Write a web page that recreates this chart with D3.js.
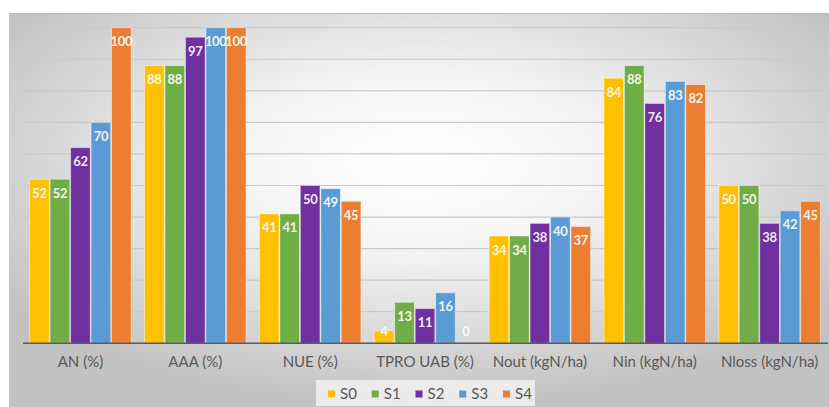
<!DOCTYPE html>
<html>
<head>
<meta charset="utf-8">
<script src="https://cdn.jsdelivr.net/npm/d3@7"></script>
<style>
  html, body { margin: 0; padding: 0; background: #ffffff; }
  svg { display: block; font-family: "Lato", "Open Sans", sans-serif; }
</style>
</head>
<body>
<svg id="chart" width="829" height="407"></svg>
<script>
// Indicator groups along the x axis
const categories = ["AN (%)", "AAA (%)", "NUE (%)", "TPRO UAB (%)", "Nout (kgN/ha)", "Nin (kgN/ha)", "Nloss (kgN/ha)"];
// Scenarios
const seriesNames = ["S0", "S1", "S2", "S3", "S4"];
const seriesColors = ["#FFC000", "#70AD47", "#7030A0", "#5B9BD5", "#ED7D31"];
// Values per scenario, one entry per category
const S0 = [52, 88, 41, 4, 34, 84, 50];
const S1 = [52, 88, 41, 13, 34, 88, 50];
const S2 = [62, 97, 50, 11, 38, 76, 38];
const S3 = [70, 100, 49, 16, 40, 83, 42];
const S4 = [100, 100, 45, 0, 37, 82, 45];
const seriesValues = [S0, S1, S2, S3, S4];
const gridTicks = [10, 20, 30, 40, 50, 60, 70, 80, 90, 100];

const svg = d3.select("#chart");
const W = 829, H = 407;

// Chart area background: soft radial shading, light in the middle
const defs = svg.append("defs");
const grad = defs.append("radialGradient")
  .attr("id", "bg").attr("cx", "50%").attr("cy", "38%").attr("r", "62%");
grad.append("stop").attr("offset", "0%").attr("stop-color", "#ffffff");
grad.append("stop").attr("offset", "35%").attr("stop-color", "#f5f5f5");
grad.append("stop").attr("offset", "100%").attr("stop-color", "#c2c2c2");

svg.append("rect").attr("x", 9).attr("y", 13).attr("width", W - 9).attr("height", H - 13)
  .attr("fill", "url(#bg)");
svg.append("line").attr("x1", 9).attr("x2", W).attr("y1", 13.5).attr("y2", 13.5)
  .attr("stroke", "#bdbdbd").attr("stroke-width", 1.2);

const plot = { left: 23, right: 827, top: 27.7, bottom: 343.3 };

const y = d3.scaleLinear().domain([0, 100]).range([plot.bottom, plot.top]);
const x0 = d3.scaleBand().domain(categories).range([plot.left, plot.right])
  .paddingInner(0.116).paddingOuter(0.058);
const x1 = d3.scaleBand().domain(seriesNames).range([0, x0.bandwidth()]).paddingInner(0.04);

// Horizontal gridlines
svg.append("g").selectAll("line").data(gridTicks).join("line")
  .attr("x1", plot.left).attr("x2", plot.right)
  .attr("y1", d => y(d)).attr("y2", d => y(d))
  .attr("stroke", "#c9c9c9").attr("stroke-width", 1.2);

// Bars
const groups = svg.append("g").selectAll("g").data(categories).join("g")
  .attr("transform", c => `translate(${x0(c)},0)`);

const cells = groups.selectAll("g").data((c, i) => seriesNames.map((s, k) => ({ s, k, v: seriesValues[k][i] })))
  .join("g");

cells.append("rect")
  .attr("x", d => x1(d.s))
  .attr("y", d => y(d.v))
  .attr("width", x1.bandwidth())
  .attr("height", d => y(0) - y(d.v))
  .attr("fill", d => seriesColors[d.k])
  .attr("stroke", "rgba(255,255,255,0.45)")
  .attr("stroke-width", 1);

cells.append("text")
  .attr("x", d => x1(d.s) + x1.bandwidth() / 2)
  .attr("y", d => Math.min(y(d.v) + 14, y(0) - 12))
  .attr("dy", "0.35em")
  .attr("text-anchor", "middle")
  .attr("font-size", 13)
  .attr("font-weight", "bold")
  .attr("letter-spacing", -0.3)
  .attr("fill", "rgba(255,255,255,0.92)")
  .text(d => d.v);

// Category axis
const xAxis = svg.append("g").attr("transform", `translate(0,${plot.bottom})`)
  .call(d3.axisBottom(x0).tickSize(0).tickPadding(13));
xAxis.select(".domain").attr("stroke", "#5a5a5a").attr("stroke-width", 1.6)
  .attr("d", `M${plot.left},0H${plot.right + 1}`);
xAxis.selectAll("text").attr("font-size", 15).attr("fill", "#595959")
  .attr("font-family", "Lato, 'Open Sans', sans-serif");

// Legend
const legend = svg.append("g");
legend.append("rect").attr("x", 316).attr("y", 380).attr("width", 219).attr("height", 26)
  .attr("fill", "#f1f1f1").attr("opacity", 0.85);
const legendX = d3.scalePoint().domain(seriesNames).range([328, 503]);
const items = legend.selectAll("g.item").data(seriesNames).join("g").attr("class", "item")
  .attr("transform", s => `translate(${legendX(s)},394)`);
items.append("rect").attr("x", 0).attr("y", -3.5).attr("width", 7).attr("height", 7)
  .attr("fill", (s, i) => seriesColors[i]);
items.append("text").attr("x", 12).attr("dy", "0.35em").attr("font-size", 15)
  .attr("fill", "#595959").text(s => s);
</script>
</body>
</html>
